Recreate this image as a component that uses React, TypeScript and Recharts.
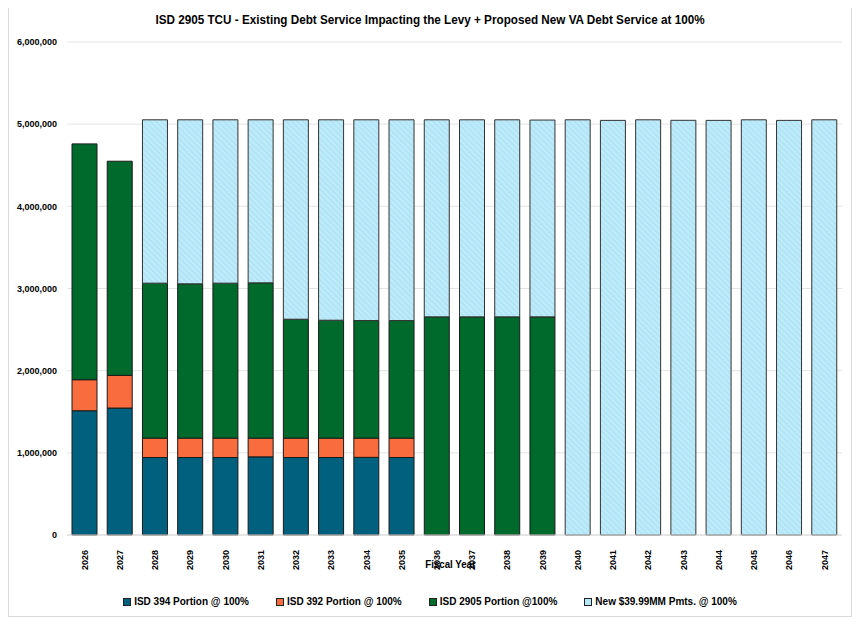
import { BarChart, Bar, XAxis, YAxis, CartesianGrid } from "recharts";

const years = [
  "2026", "2027", "2028", "2029", "2030", "2031", "2032", "2033", "2034", "2035", "2036",
  "2037", "2038", "2039", "2040", "2041", "2042", "2043", "2044", "2045", "2046", "2047",
];

const isd394 = [
  1512000, 1545000, 943000, 943000, 943000, 951000, 943000, 943000, 945000, 943000,
  0, 0, 0, 0, 0, 0, 0, 0, 0, 0, 0, 0,
];

const isd392 = [
  378000, 398000, 236000, 236000, 236000, 228000, 236000, 236000, 234000, 236000,
  0, 0, 0, 0, 0, 0, 0, 0, 0, 0, 0, 0,
];

const isd2905 = [
  2870000, 2606000, 1886000, 1878000, 1886000, 1890000, 1447000, 1435000, 1431000, 1431000,
  2655000, 2655000, 2655000, 2655000, 0, 0, 0, 0, 0, 0, 0, 0,
];

const newPmts = [
  0, 0, 1988000, 1996000, 1988000, 1984000, 2427000, 2439000, 2443000, 2443000,
  2398000, 2398000, 2398000, 2395000, 5053000, 5046000, 5053000, 5047000, 5046000, 5053000,
  5046000, 5053000,
];

const yTicks = [0, 1000000, 2000000, 3000000, 4000000, 5000000, 6000000];

const legendItems = [
  { label: "ISD 394 Portion @ 100%", color: "#02607f" },
  { label: "ISD 392 Portion @ 100%", color: "#f86c3d" },
  { label: "ISD 2905 Portion @100%", color: "#006a2d" },
  { label: "New $39.99MM Pmts. @ 100%", color: "#b3e6f7" },
];

const data = years.map((year, i) => ({
  year,
  isd394: isd394[i],
  isd392: isd392[i],
  isd2905: isd2905[i],
  newPmts: newPmts[i],
}));

const sans = "'Liberation Sans', Arial, sans-serif";

const YearTick = (props: any) => {
  const { x, y, payload } = props;
  return (
    <text
      x={x}
      y={y + 7}
      transform={`rotate(-90, ${x}, ${y + 7})`}
      textAnchor="end"
      dy="0.35em"
      fontSize={9}
      fontWeight="bold"
      fontFamily={sans}
      fill="#000"
    >
      {payload.value}
    </text>
  );
};

// Fiscal Year label, squeezed a bit like the narrow font in the original
const AxisTitle = (props: any) => {
  const { viewBox } = props;
  const cx = viewBox.x + viewBox.width / 2 - 4;
  const cy = viewBox.y + viewBox.height - 1;
  return (
    <text
      x={cx}
      y={cy}
      textAnchor="middle"
      fontFamily={sans}
      fontWeight="bold"
      fontSize={11}
      fill="#000"
      transform={`translate(${cx}, 0) scale(0.88, 1) translate(${-cx}, 0)`}
    >
      Fiscal Year
    </text>
  );
};

export default function App() {
  return (
    <div
      style={{
        position: "relative",
        width: 844,
        height: 611,
        marginTop: -2,
        border: "1px solid #d9d9d9",
        boxSizing: "border-box",
        background: "#fff",
      }}
    >
      <div
        style={{
          position: "absolute",
          left: 0,
          right: 0,
          top: 5,
          textAlign: "center",
          fontFamily: sans,
          fontWeight: "bold",
          fontSize: 13,
          color: "#000",
          transform: "scaleX(0.9)",
        }}
      >
        ISD 2905 TCU - Existing Debt Service Impacting the Levy + Proposed New VA Debt Service at 100%
      </div>
      <BarChart
        width={844}
        height={611}
        data={data}
        margin={{ top: 36, right: 10, left: 0, bottom: 48 }}
        style={{ position: "absolute", left: -1, top: -1 }}
      >
        <defs>
          <pattern
            id="hatch"
            patternUnits="userSpaceOnUse"
            width={4}
            height={4}
            patternTransform="rotate(-45)"
          >
            <rect width={4} height={4} fill="#b0e4f6" />
            <rect width={2} height={4} fill="#c0ebf9" />
          </pattern>
        </defs>
        <CartesianGrid vertical={false} stroke="#e4e4e4" />
        <XAxis
          dataKey="year"
          interval={0}
          tickLine={false}
          axisLine={{ stroke: "#d9d9d9" }}
          height={34}
          tick={<YearTick />}
          label={<AxisTitle />}
        />
        <YAxis
          width={59}
          domain={[0, 6000000]}
          ticks={yTicks}
          axisLine={false}
          tickLine={false}
          tickMargin={4}
          tickFormatter={(v: number) => v.toLocaleString("en-US")}
          tick={{ fontSize: 9, fontWeight: "bold", fontFamily: sans, fill: "#000" }}
        />
        <Bar dataKey="isd394" stackId="a" barSize={25} fill="#02607f" stroke="#1a1a1a" strokeWidth={1} isAnimationActive={false} />
        <Bar dataKey="isd392" stackId="a" barSize={25} fill="#f86c3d" stroke="#1a1a1a" strokeWidth={1} isAnimationActive={false} />
        <Bar dataKey="isd2905" stackId="a" barSize={25} fill="#006a2d" stroke="#1a1a1a" strokeWidth={1} isAnimationActive={false} />
        <Bar dataKey="newPmts" stackId="a" barSize={25} fill="url(#hatch)" stroke="#333" strokeWidth={1} isAnimationActive={false} />
      </BarChart>
      <div
        style={{
          position: "absolute",
          left: 0,
          right: 0,
          top: 589,
          display: "flex",
          justifyContent: "center",
          gap: 27,
          fontFamily: sans,
          fontWeight: "bold",
          fontSize: 10,
          color: "#000",
        }}
      >
        {legendItems.map((item) => (
          <div key={item.label} style={{ display: "flex", alignItems: "center" }}>
            <span
              style={{
                display: "inline-block",
                width: 6,
                height: 6,
                background: item.color,
                border: "1px solid #222",
                marginRight: 3,
              }}
            />
            {item.label}
          </div>
        ))}
      </div>
    </div>
  );
}
